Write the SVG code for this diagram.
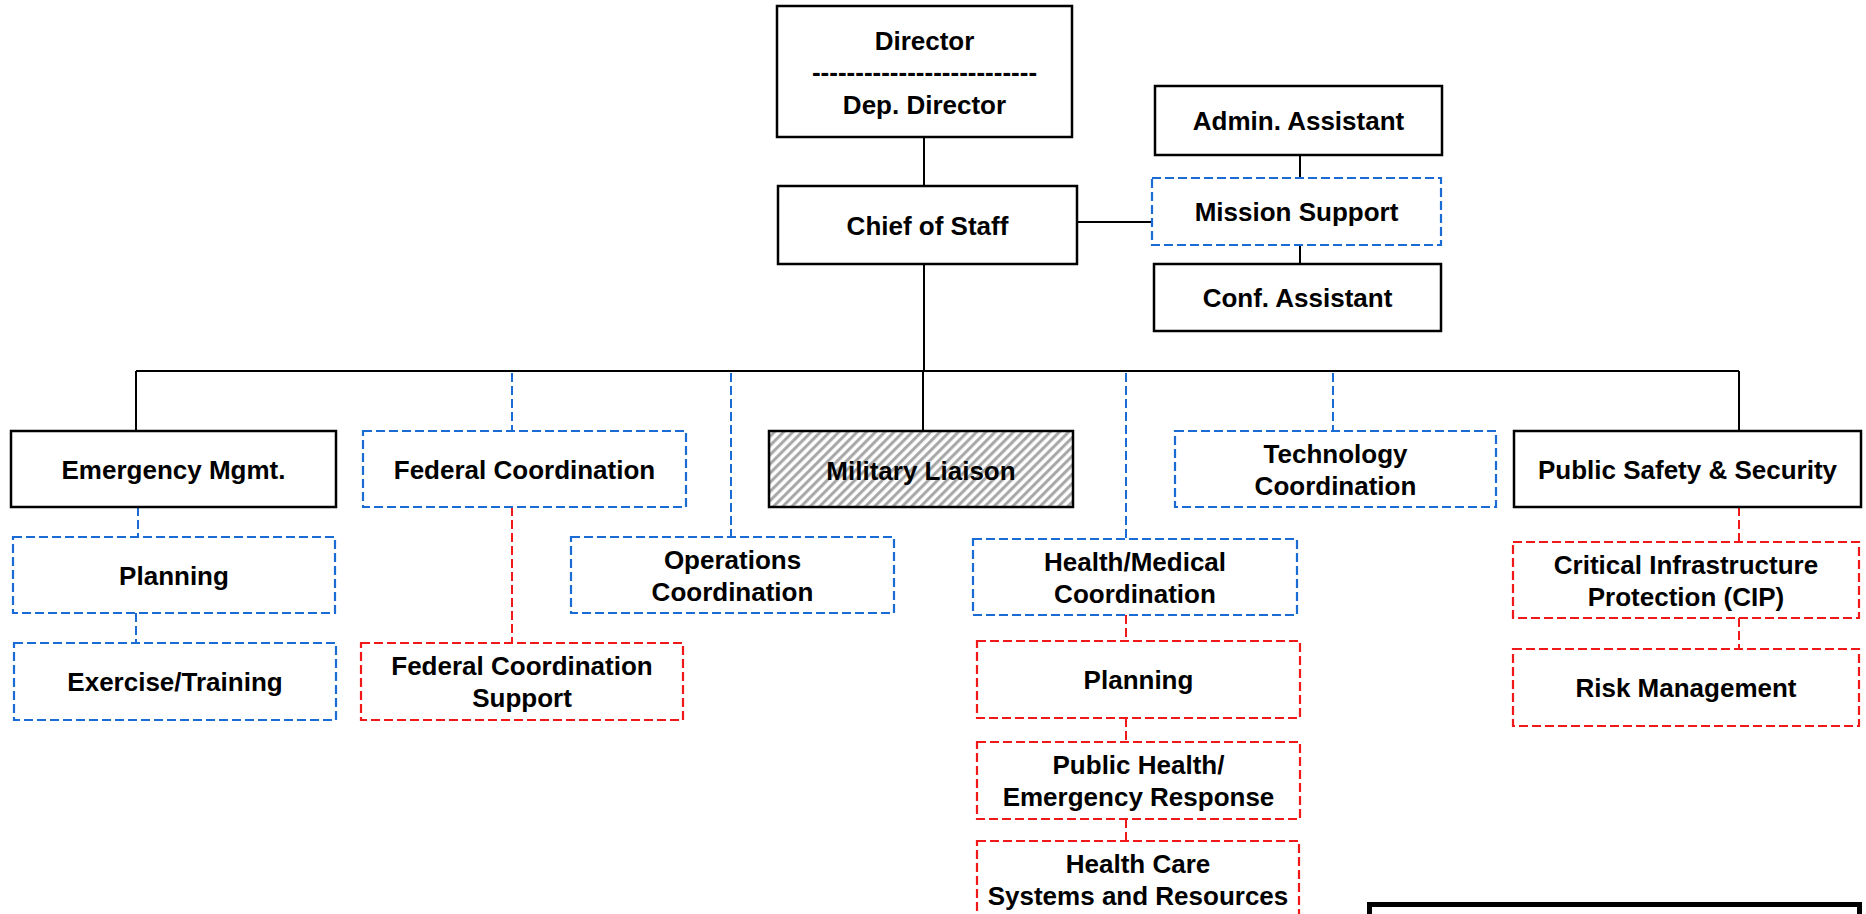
<svg xmlns="http://www.w3.org/2000/svg" width="1866" height="914" viewBox="0 0 1866 914">
<defs>
<style>
.t{font-family:"Liberation Sans",Arial,sans-serif;font-weight:bold;font-size:26px;fill:#000;text-anchor:middle}
.solid{fill:#fff;stroke:#000;stroke-width:2.5}
.blue{fill:#fff;stroke:#1a6bd4;stroke-width:2.2;stroke-dasharray:9 4}
.red{fill:#fff;stroke:#f01818;stroke-width:2.2;stroke-dasharray:9 4}
.c{stroke:#000;stroke-width:2;fill:none}
.cb{stroke:#1a6bd4;stroke-width:2;stroke-dasharray:9 4;fill:none}
.cr{stroke:#f01818;stroke-width:2;stroke-dasharray:9 4;fill:none}
</style>
<pattern id="hatch" patternUnits="userSpaceOnUse" width="6.5" height="6.5" patternTransform="rotate(45)">
<rect width="6.5" height="6.5" fill="#fff"/>
<line x1="1.6" y1="0" x2="1.6" y2="6.5" stroke="#a6a6a6" stroke-width="3"/>
</pattern>
</defs>
<rect width="1866" height="914" fill="#fff"/>
<g id="connectors">
<line class="c" x1="924" y1="137" x2="924" y2="186"/>
<line class="c" x1="924" y1="264" x2="924" y2="371"/>
<line class="c" x1="1077" y1="222" x2="1152" y2="222"/>
<line class="c" x1="1300" y1="155" x2="1300" y2="178"/>
<line class="c" x1="1300" y1="245" x2="1300" y2="264"/>
<line class="c" x1="136" y1="371" x2="1739" y2="371"/>
<line class="c" x1="136" y1="371" x2="136" y2="431"/>
<line class="c" x1="923" y1="371" x2="923" y2="431"/>
<line class="c" x1="1739" y1="371" x2="1739" y2="431"/>
<line class="cb" x1="512" y1="373" x2="512" y2="431"/>
<line class="cb" x1="731" y1="373" x2="731" y2="537"/>
<line class="cb" x1="1126" y1="373" x2="1126" y2="539"/>
<line class="cb" x1="1333" y1="373" x2="1333" y2="430"/>
<line class="cb" x1="138" y1="507" x2="138" y2="537"/>
<line class="cb" x1="136" y1="613" x2="136" y2="643"/>
<line class="cr" x1="512" y1="507" x2="512" y2="643"/>
<line class="cr" x1="1126" y1="615" x2="1126" y2="641"/>
<line class="cr" x1="1126" y1="718" x2="1126" y2="742"/>
<line class="cr" x1="1126" y1="819" x2="1126" y2="841"/>
<line class="cr" x1="1739" y1="507" x2="1739" y2="542"/>
<line class="cr" x1="1739" y1="618" x2="1739" y2="649"/>
</g>
<g id="director">
<rect class="solid" x="777" y="6" width="295" height="131"/>
<text class="t" x="924.5" y="50">Director</text>
<text class="t" x="924.5" y="81">--------------------------</text>
<text class="t" x="924.5" y="114">Dep. Director</text>
</g>
<g id="chief-of-staff">
<rect class="solid" x="778" y="186" width="299" height="78"/>
<text class="t" x="927.5" y="234.5">Chief of Staff</text>
</g>
<g id="admin-assistant">
<rect class="solid" x="1155" y="86" width="287" height="69"/>
<text class="t" x="1298.5" y="130">Admin. Assistant</text>
</g>
<g id="mission-support">
<rect class="blue" x="1152" y="178" width="289" height="67"/>
<text class="t" x="1296.5" y="221">Mission Support</text>
</g>
<g id="conf-assistant">
<rect class="solid" x="1154" y="264" width="287" height="67"/>
<text class="t" x="1297.5" y="307">Conf. Assistant</text>
</g>
<g id="emergency-mgmt">
<rect class="solid" x="11" y="431" width="325" height="76"/>
<text class="t" x="173.5" y="478.5">Emergency Mgmt.</text>
</g>
<g id="federal-coordination">
<rect class="blue" x="363" y="431" width="323" height="76"/>
<text class="t" x="524.5" y="478.5">Federal Coordination</text>
</g>
<g id="military-liaison">
<rect x="769" y="431" width="304" height="76" fill="url(#hatch)" stroke="#000" stroke-width="2.5"/>
<text class="t" x="921" y="479.5">Military Liaison</text>
</g>
<g id="technology-coordination">
<rect class="blue" x="1175" y="431" width="321" height="76"/>
<text class="t" x="1335.5" y="462.5">Technology</text>
<text class="t" x="1335.5" y="494.5">Coordination</text>
</g>
<g id="public-safety-security">
<rect class="solid" x="1514" y="431" width="347" height="76"/>
<text class="t" x="1687.5" y="478.5">Public Safety &amp; Security</text>
</g>
<g id="planning-em">
<rect class="blue" x="13" y="537" width="322" height="76"/>
<text class="t" x="174" y="584.5">Planning</text>
</g>
<g id="exercise-training">
<rect class="blue" x="14" y="643" width="322" height="77"/>
<text class="t" x="175" y="691">Exercise/Training</text>
</g>
<g id="federal-coordination-support">
<rect class="red" x="361" y="643" width="322" height="77"/>
<text class="t" x="522" y="675">Federal Coordination</text>
<text class="t" x="522" y="707">Support</text>
</g>
<g id="operations-coordination">
<rect class="blue" x="571" y="537" width="323" height="76"/>
<text class="t" x="732.5" y="568.5">Operations</text>
<text class="t" x="732.5" y="600.5">Coordination</text>
</g>
<g id="health-medical-coordination">
<rect class="blue" x="973" y="539" width="324" height="76"/>
<text class="t" x="1135" y="570.5">Health/Medical</text>
<text class="t" x="1135" y="602.5">Coordination</text>
</g>
<g id="planning-health">
<rect class="red" x="977" y="641" width="323" height="77"/>
<text class="t" x="1138.5" y="689">Planning</text>
</g>
<g id="public-health-emergency-response">
<rect class="red" x="977" y="742" width="323" height="77"/>
<text class="t" x="1138.5" y="774">Public Health/</text>
<text class="t" x="1138.5" y="806">Emergency Response</text>
</g>
<g id="health-care-systems">
<rect class="red" x="977" y="841" width="322" height="77"/>
<text class="t" x="1138" y="873">Health Care</text>
<text class="t" x="1138" y="905">Systems and Resources</text>
</g>
<g id="cip">
<rect class="red" x="1513" y="542" width="346" height="76"/>
<text class="t" x="1686" y="573.5">Critical Infrastructure</text>
<text class="t" x="1686" y="606">Protection (CIP)</text>
</g>
<g id="risk-management">
<rect class="red" x="1513" y="649" width="346" height="77"/>
<text class="t" x="1686" y="697">Risk Management</text>
</g>
<g id="legend-box">
<rect x="1369.5" y="904.5" width="490" height="100" fill="#fff" stroke="#000" stroke-width="5"/>
</g>
</svg>
